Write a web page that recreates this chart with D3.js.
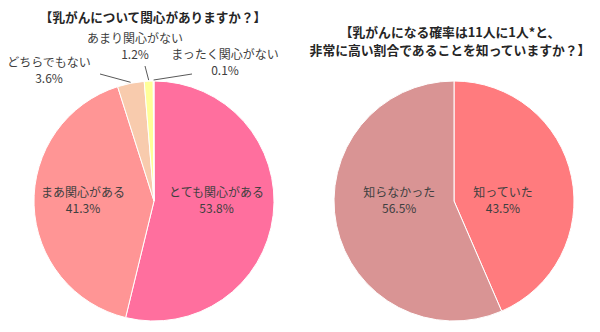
<!DOCTYPE html>
<html><head><meta charset="utf-8">
<script src="https://cdn.jsdelivr.net/npm/d3@7"></script>
<style>
html,body{margin:0;padding:0;background:#fff;}
svg{display:block;}
text{font-family:"Noto Sans CJK JP","Noto Sans",sans-serif;}
</style></head>
<body>
<svg id="c" width="600" height="332"></svg>
<script>
// ---- data ----
const interestCategories = ["とても関心がある","まあ関心がある","どちらでもない","あまり関心がない","まったく関心がない"];
const interestValues = [53.8, 41.3, 3.6, 1.2, 0.1];
const interestColors = ["#FF6F9E","#FF9595","#F8CBAD","#FFFF99","#FFE4E4"];
const awareCategories = ["知っていた","知らなかった"];
const awareValues = [43.5, 56.5];
const awareColors = ["#FF7B7E","#D99494"];
const leftTitle = ["【乳がんについて関心がありますか？】"];
const rightTitle = ["【乳がんになる確率は11人に1人*と、","非常に高い割合であることを知っていますか？】"];

const svg = d3.select("#c");
const R = 120;
const fmt = v => v.toFixed(1) + "%";

function drawPie(cx, cy, cats, vals, cols, insideIdx, labelR, callouts) {
  const data = cats.map((c,i)=>({cat:c, v:vals[i], col:cols[i], i}));
  const pie = d3.pie().value(d=>d.v).sort(null);
  const arcs = pie(data);
  const arc = d3.arc().innerRadius(0).outerRadius(R);
  const g = svg.append("g").attr("transform", `translate(${cx},${cy})`);
  g.selectAll("path").data(arcs).join("path")
    .attr("d", arc).attr("fill", d=>d.data.col)
    .attr("stroke", "#fff").attr("stroke-width", 1);

  arcs.filter(a=>insideIdx.includes(a.index)).forEach(a=>{
    const r = labelR[a.index];
    const labelArc = d3.arc().innerRadius(r).outerRadius(r);
    const [x] = labelArc.centroid(a);
    const t = g.append("text").attr("text-anchor","middle")
      .attr("font-size", 12).attr("fill","#404040");
    t.append("tspan").attr("x", x).attr("y", -4).text(a.data.cat);
    t.append("tspan").attr("x", x).attr("y", 12).text(fmt(a.data.v));
  });

  (callouts||[]).forEach(co=>{
    const a = arcs[co.idx];
    const ang = (a.startAngle + a.endAngle)/2;
    const ex = Math.sin(ang)*(R+1), ey = -Math.cos(ang)*(R+1);
    g.append("line").attr("x1", co.lx).attr("y1", co.ly).attr("x2", ex).attr("y2", ey)
      .attr("stroke","#595959").attr("stroke-width",1);
    const t = g.append("text").attr("text-anchor","middle")
      .attr("font-size", 12).attr("fill","#404040");
    t.append("tspan").attr("x", co.tx).attr("y", co.ty).text(a.data.cat);
    t.append("tspan").attr("x", co.tx).attr("y", co.ty+16).text(fmt(a.data.v));
  });
}

// callout label placement (relative to pie centre)
const leftCallouts = [
  {idx:2, tx:-105, ty:-134, lx:-54, ly:-127},
  {idx:3, tx:-19,  ty:-158, lx:-9,  ly:-135},
  {idx:4, tx:71,   ty:-142, lx:38,  ly:-127}
];

drawPie(154, 201, interestCategories, interestValues, interestColors, [0,1], [63,71], leftCallouts);
drawPie(454, 201, awareCategories, awareValues, awareColors, [0,1], [50,56], []);

svg.append("text").attr("x",153).attr("y",22).attr("text-anchor","middle")
  .attr("font-size",12.6).attr("font-weight","bold").attr("fill","#262626").text(leftTitle[0]);
rightTitle.forEach((s,i)=>{
  svg.append("text").attr("x",450).attr("y",37+i*18).attr("text-anchor","middle")
    .attr("font-size",12.8).attr("font-weight","bold").attr("fill","#262626").text(s);
});
</script>
</body></html>
